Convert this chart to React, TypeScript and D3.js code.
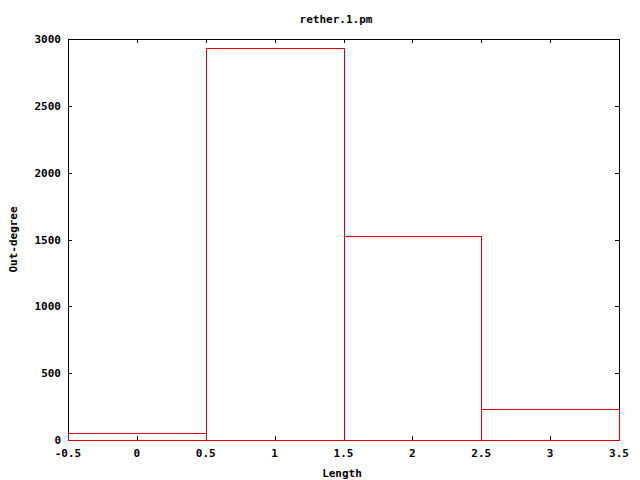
import React from "react";
import * as d3 from "d3";

const lengths = [0, 1, 2, 3];
const outDegree = [52, 2934, 1524, 229];
const xTicks = [-0.5, 0, 0.5, 1, 1.5, 2, 2.5, 3, 3.5];
const yTicks = [0, 500, 1000, 1500, 2000, 2500, 3000];

const W = 640;
const H = 480;
const m = { left: 68, right: 21, top: 39, bottom: 40 };
const font = "'DejaVu Sans Mono', monospace";

const App = () => {
  const x = d3.scaleLinear().domain([-0.5, 3.5]).range([m.left, W - m.right]);
  const y = d3.scaleLinear().domain([0, 3000]).range([H - m.bottom, m.top]);
  const px = (v: number) => Math.round(v) + 0.5;
  const tl = 4;

  // each box outline as its own path, pixel-aligned
  const boxPath = (d: number, v: number) => {
    const x0 = px(x(d - 0.5));
    const x1 = px(x(d + 0.5));
    const y0 = px(y(0));
    const y1 = px(y(v));
    return `M${x0},${y0}V${y1}H${x1}V${y0}Z`;
  };

  return (
    <svg width={W} height={H} style={{ position: "absolute", left: 0, top: 0, background: "white" }}>
      <text x={W / 2 + 16} y={23} textAnchor="middle" fontFamily={font} fontWeight="bold" fontSize="11">
        rether.1.pm
      </text>
      <rect
        x={px(m.left)}
        y={px(m.top)}
        width={Math.round(W - m.right) - Math.round(m.left)}
        height={Math.round(H - m.bottom) - Math.round(m.top)}
        fill="none"
        stroke="#000"
      />
      {xTicks.map((t, i) => (
        <g key={i}>
          <line x1={px(x(t))} x2={px(x(t))} y1={y(0)} y2={y(0) - tl} stroke="#000" />
          <line x1={px(x(t))} x2={px(x(t))} y1={m.top} y2={m.top + tl} stroke="#000" />
          <text x={x(t)} y={y(0) + 17} textAnchor="middle" fontFamily={font} fontWeight="bold" fontSize="11">
            {String(t)}
          </text>
        </g>
      ))}
      {yTicks.map((t, i) => (
        <g key={i}>
          <line x1={m.left} x2={m.left + tl} y1={px(y(t))} y2={px(y(t))} stroke="#000" />
          <line x1={W - m.right} x2={W - m.right - tl} y1={px(y(t))} y2={px(y(t))} stroke="#000" />
          <text x={61} y={y(t) + 4} textAnchor="end" fontFamily={font} fontWeight="bold" fontSize="11">
            {String(t)}
          </text>
        </g>
      ))}
      {lengths.map((d, i) => (
        <path key={i} d={boxPath(d, outDegree[i])} fill="none" stroke="#dd0000" strokeWidth={1} />
      ))}
      <text x={342} y={477} textAnchor="middle" fontFamily={font} fontWeight="bold" fontSize="11">
        Length
      </text>
      <text
        transform={`translate(17, ${(m.top + H - m.bottom) / 2}) rotate(-90)`}
        textAnchor="middle"
        fontFamily={font}
        fontWeight="bold"
        fontSize="11"
      >
        Out-degree
      </text>
    </svg>
  );
};

export default App;
